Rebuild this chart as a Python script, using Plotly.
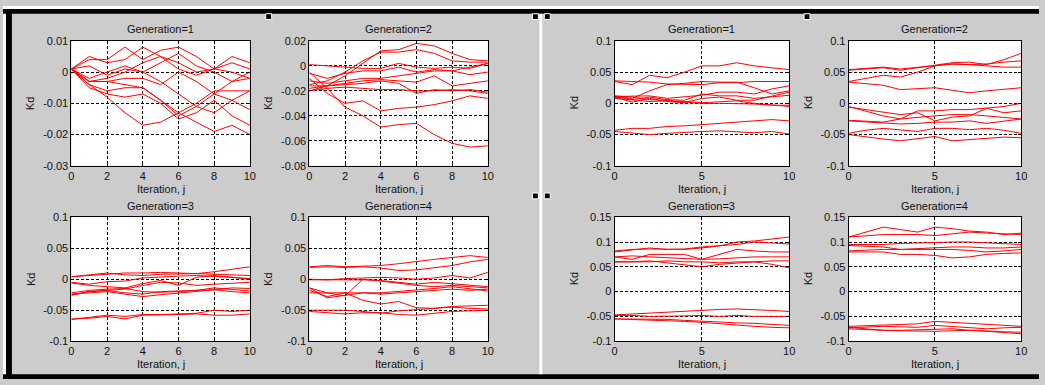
import plotly.graph_objects as go

W, H = 1045, 385

ITER = [0, 1, 2, 3, 4, 5, 6, 7, 8, 9, 10]

# ---- Left figure: Kd trajectories, generations 1-4 ----
LEFT_GEN1 = [
    [0.001, 0.004, 0.004, 0.008, 0.004, 0.007, 0.008, 0.005, 0.001, 0.005, 0.003],
    [0.001, 0.005, 0.003, 0.004, 0.008, 0.005, 0.003, 0.000, 0.001, 0.003, 0.001],
    [0.001, -0.002, 0.000, 0.002, 0.000, 0.003, 0.006, 0.002, 0.000, -0.003, -0.002],
    [0.001, -0.003, -0.002, 0.000, 0.003, 0.005, 0.001, -0.001, 0.001, 0.000, -0.002],
    [0.001, 0.002, -0.001, 0.001, 0.000, -0.003, -0.007, -0.011, -0.013, -0.009, -0.006],
    [0.001, -0.003, -0.003, -0.004, -0.005, -0.009, -0.013, -0.010, -0.006, -0.006, -0.006],
    [0.001, -0.004, -0.006, -0.005, -0.005, -0.009, -0.014, -0.011, -0.007, -0.009, -0.012],
    [0.001, -0.005, -0.007, -0.008, -0.007, -0.010, -0.015, -0.013, -0.009, -0.014, -0.017],
    [0.001, -0.004, -0.008, -0.013, -0.017, -0.016, -0.013, -0.016, -0.019, -0.017, -0.020],
    [0.001, -0.003, -0.003, -0.002, -0.002, -0.004, 0.000, -0.003, -0.007, -0.003, 0.000],
]
LEFT_GEN2 = [
    [-0.020, -0.016, -0.008, 0.002, 0.012, 0.013, 0.018, 0.016, 0.010, 0.005, 0.004],
    [-0.015, -0.012, -0.005, 0.004, 0.011, 0.011, 0.013, 0.010, 0.004, 0.003, 0.003],
    [0.001, 0.000, -0.001, -0.002, -0.002, 0.002, -0.001, -0.002, -0.001, -0.002, 0.002],
    [-0.006, -0.010, -0.006, -0.004, -0.004, -0.001, -0.005, -0.003, -0.004, -0.007, -0.005],
    [-0.012, -0.014, -0.012, -0.010, -0.010, -0.008, -0.006, -0.004, -0.004, -0.001, 0.002],
    [-0.018, -0.016, -0.014, -0.012, -0.011, -0.012, -0.013, -0.008, -0.016, -0.014, -0.012],
    [-0.020, -0.018, -0.017, -0.018, -0.019, -0.019, -0.020, -0.020, -0.019, -0.020, -0.022],
    [-0.016, -0.016, -0.015, -0.014, -0.012, -0.014, -0.022, -0.019, -0.020, -0.019, -0.021],
    [-0.010, -0.022, -0.030, -0.028, -0.036, -0.034, -0.033, -0.031, -0.028, -0.024, -0.026],
    [-0.005, -0.018, -0.033, -0.040, -0.049, -0.047, -0.046, -0.055, -0.062, -0.065, -0.064],
]
LEFT_GEN3 = [
    [0.004, 0.007, 0.010, 0.007, 0.006, 0.008, 0.009, 0.009, 0.012, 0.016, 0.020],
    [0.004, 0.006, 0.008, 0.010, 0.010, 0.011, 0.010, 0.009, 0.008, 0.007, 0.006],
    [-0.005, -0.008, -0.004, -0.003, 0.002, 0.004, 0.005, 0.006, 0.005, 0.003, 0.001],
    [-0.006, -0.010, -0.012, -0.014, -0.007, -0.002, -0.010, 0.003, 0.006, 0.003, 0.000],
    [-0.025, -0.020, -0.018, -0.016, -0.010, -0.005, -0.006, -0.010, -0.008, -0.006, -0.005],
    [-0.026, -0.020, -0.018, -0.022, -0.024, -0.020, -0.019, -0.018, -0.017, -0.014, -0.015],
    [-0.024, -0.022, -0.020, -0.024, -0.028, -0.025, -0.022, -0.020, -0.017, -0.020, -0.022],
    [-0.022, -0.018, -0.016, -0.015, -0.020, -0.021, -0.020, -0.018, -0.014, -0.016, -0.019],
    [-0.065, -0.062, -0.058, -0.060, -0.057, -0.057, -0.056, -0.055, -0.050, -0.052, -0.050],
    [-0.064, -0.063, -0.060, -0.064, -0.058, -0.058, -0.057, -0.056, -0.058, -0.058, -0.056],
]
LEFT_GEN4 = [
    [0.020, 0.022, 0.020, 0.021, 0.022, 0.025, 0.029, 0.032, 0.035, 0.038, 0.035],
    [0.019, 0.020, 0.019, 0.020, 0.018, 0.014, 0.015, 0.018, 0.022, 0.028, 0.032],
    [0.000, -0.001, 0.001, 0.002, 0.003, 0.002, 0.000, 0.002, 0.006, 0.002, 0.011],
    [-0.001, -0.001, 0.000, -0.001, -0.002, -0.005, -0.008, -0.005, -0.007, -0.009, -0.012],
    [-0.014, -0.022, -0.027, 0.000, -0.003, -0.007, -0.010, -0.012, -0.010, -0.012, -0.014],
    [-0.018, -0.028, -0.022, -0.022, -0.024, -0.022, -0.020, -0.019, -0.016, -0.018, -0.016],
    [-0.022, -0.022, -0.022, -0.034, -0.040, -0.036, -0.046, -0.047, -0.044, -0.043, -0.042],
    [-0.014, -0.030, -0.026, -0.022, -0.022, -0.020, -0.018, -0.015, -0.012, -0.015, -0.019],
    [-0.050, -0.050, -0.050, -0.052, -0.055, -0.051, -0.049, -0.046, -0.045, -0.047, -0.048],
    [-0.052, -0.054, -0.056, -0.054, -0.054, -0.057, -0.058, -0.055, -0.052, -0.051, -0.050],
]

# ---- Right figure ----
RIGHT_GEN1 = [
    [0.035, 0.030, 0.045, 0.041, 0.050, 0.060, 0.060, 0.065, 0.060, 0.057, 0.054],
    [0.036, 0.035, 0.034, 0.031, 0.031, 0.030, 0.033, 0.033, 0.035, 0.035, 0.035],
    [0.010, 0.008, 0.020, 0.030, 0.032, 0.035, 0.034, 0.034, 0.025, 0.015, 0.020],
    [0.011, 0.012, 0.012, 0.008, 0.010, 0.013, 0.018, 0.018, 0.015, 0.023, 0.028],
    [0.012, 0.006, 0.010, 0.006, 0.005, 0.015, 0.012, 0.012, 0.008, 0.010, 0.013],
    [0.010, 0.002, 0.008, 0.003, 0.001, 0.008, 0.010, 0.005, 0.005, 0.012, 0.018],
    [0.012, 0.010, 0.006, 0.005, 0.003, 0.001, 0.002, 0.004, 0.000, -0.002, -0.005],
    [0.008, 0.005, 0.003, 0.004, 0.002, 0.000, 0.000, 0.000, -0.001, -0.003, -0.003],
    [-0.043, -0.040, -0.040, -0.037, -0.036, -0.034, -0.032, -0.031, -0.028, -0.026, -0.028],
    [-0.045, -0.048, -0.050, -0.048, -0.046, -0.045, -0.044, -0.046, -0.047, -0.045, -0.049],
]
RIGHT_GEN2 = [
    [0.053, 0.055, 0.057, 0.053, 0.057, 0.062, 0.065, 0.066, 0.062, 0.070, 0.080],
    [0.054, 0.056, 0.058, 0.055, 0.058, 0.060, 0.063, 0.062, 0.063, 0.066, 0.068],
    [0.035, 0.040, 0.045, 0.042, 0.050, 0.060, 0.063, 0.062, 0.060, 0.058, 0.058],
    [0.034, 0.032, 0.029, 0.022, 0.024, 0.025, 0.021, 0.017, 0.020, 0.023, 0.025],
    [-0.005, -0.012, -0.020, -0.025, -0.012, -0.012, -0.010, -0.010, -0.008, -0.005, 0.000],
    [-0.006, -0.010, -0.015, -0.018, -0.015, -0.028, -0.022, -0.020, -0.008, -0.015, -0.012],
    [-0.027, -0.028, -0.030, -0.025, -0.022, -0.020, -0.018, -0.018, -0.020, -0.022, -0.025],
    [-0.028, -0.030, -0.032, -0.033, -0.032, -0.030, -0.030, -0.028, -0.032, -0.028, -0.025],
    [-0.048, -0.043, -0.040, -0.042, -0.045, -0.040, -0.040, -0.042, -0.040, -0.043, -0.048],
    [-0.050, -0.054, -0.057, -0.060, -0.056, -0.053, -0.060, -0.058, -0.056, -0.054, -0.055],
]
RIGHT_GEN3 = [
    [0.082, 0.085, 0.086, 0.085, 0.085, 0.088, 0.092, 0.100, 0.102, 0.106, 0.110],
    [0.080, 0.084, 0.088, 0.085, 0.086, 0.090, 0.092, 0.095, 0.100, 0.098, 0.096],
    [0.070, 0.065, 0.075, 0.075, 0.075, 0.065, 0.075, 0.085, 0.082, 0.080, 0.080],
    [0.070, 0.072, 0.070, 0.068, 0.066, 0.065, 0.066, 0.068, 0.070, 0.070, 0.070],
    [0.060, 0.060, 0.062, 0.058, 0.055, 0.050, 0.055, 0.058, 0.060, 0.055, 0.048],
    [0.060, 0.060, 0.060, 0.062, 0.060, 0.060, 0.058, 0.060, 0.060, 0.062, 0.062],
    [-0.047, -0.045, -0.043, -0.042, -0.040, -0.037, -0.036, -0.035, -0.036, -0.038, -0.040],
    [-0.048, -0.048, -0.050, -0.050, -0.049, -0.048, -0.050, -0.048, -0.050, -0.050, -0.050],
    [-0.055, -0.056, -0.058, -0.058, -0.060, -0.062, -0.065, -0.068, -0.070, -0.072, -0.073],
    [-0.055, -0.055, -0.055, -0.056, -0.058, -0.060, -0.062, -0.063, -0.064, -0.066, -0.068],
]
RIGHT_GEN4 = [
    [0.110, 0.120, 0.130, 0.125, 0.120, 0.130, 0.127, 0.122, 0.120, 0.115, 0.118],
    [0.110, 0.113, 0.115, 0.115, 0.115, 0.113, 0.117, 0.120, 0.118, 0.116, 0.115],
    [0.095, 0.095, 0.095, 0.097, 0.098, 0.100, 0.100, 0.100, 0.098, 0.096, 0.095],
    [0.093, 0.092, 0.090, 0.085, 0.087, 0.088, 0.090, 0.090, 0.088, 0.088, 0.090],
    [0.082, 0.084, 0.085, 0.085, 0.085, 0.085, 0.085, 0.083, 0.080, 0.082, 0.085],
    [0.080, 0.080, 0.080, 0.075, 0.075, 0.073, 0.068, 0.070, 0.075, 0.077, 0.078],
    [-0.070, -0.069, -0.068, -0.066, -0.065, -0.060, -0.062, -0.065, -0.067, -0.068, -0.070],
    [-0.073, -0.071, -0.070, -0.071, -0.072, -0.068, -0.070, -0.072, -0.075, -0.073, -0.072],
    [-0.075, -0.077, -0.078, -0.078, -0.077, -0.077, -0.075, -0.078, -0.080, -0.081, -0.082],
    [-0.072, -0.075, -0.078, -0.079, -0.080, -0.080, -0.079, -0.078, -0.080, -0.083, -0.085],
]

TITLES = ["Generation=1", "Generation=2", "Generation=3", "Generation=4"]

# tick labels
X_TICKS_LEFT = [0, 2, 4, 6, 8, 10]
X_TICKS_RIGHT = [0, 5, 10]
Y_TICKS_G1L = [-0.03, -0.02, -0.01, 0, 0.01]
Y_TEXT_G1L = ["-0.03", "-0.02", "-0.01", "0", "0.01"]
Y_TICKS_G2L = [-0.08, -0.06, -0.04, -0.02, 0, 0.02]
Y_TEXT_G2L = ["-0.08", "-0.06", "-0.04", "-0.02", "0", "0.02"]
Y_TICKS_01 = [-0.1, -0.05, 0, 0.05, 0.1]
Y_TEXT_01 = ["-0.1", "-0.05", "0", "0.05", "0.1"]
Y_TICKS_015 = [-0.1, -0.05, 0, 0.05, 0.1, 0.15]
Y_TEXT_015 = ["-0.1", "-0.05", "0", "0.05", "0.1", "0.15"]

# panel layout (pixel boxes: left, right, top, bottom)
panels = [
    dict(data=LEFT_GEN1, title=TITLES[0], box=(69, 249, 36, 165), yr=(-0.03, 0.01), yt=Y_TICKS_G1L, ytt=Y_TEXT_G1L, xt=X_TICKS_LEFT),
    dict(data=LEFT_GEN2, title=TITLES[1], box=(309, 489, 36, 165), yr=(-0.08, 0.02), yt=Y_TICKS_G2L, ytt=Y_TEXT_G2L, xt=X_TICKS_LEFT),
    dict(data=LEFT_GEN3, title=TITLES[2], box=(69, 249, 218, 346), yr=(-0.1, 0.1), yt=Y_TICKS_01, ytt=Y_TEXT_01, xt=X_TICKS_LEFT),
    dict(data=LEFT_GEN4, title=TITLES[3], box=(309, 489, 218, 346), yr=(-0.1, 0.1), yt=Y_TICKS_01, ytt=Y_TEXT_01, xt=X_TICKS_LEFT),
    dict(data=RIGHT_GEN1, title=TITLES[0], box=(617, 793, 36, 165), yr=(-0.1, 0.1), yt=Y_TICKS_01, ytt=Y_TEXT_01, xt=X_TICKS_RIGHT),
    dict(data=RIGHT_GEN2, title=TITLES[1], box=(853, 1027, 36, 165), yr=(-0.1, 0.1), yt=Y_TICKS_01, ytt=Y_TEXT_01, xt=X_TICKS_RIGHT),
    dict(data=RIGHT_GEN3, title=TITLES[2], box=(617, 793, 218, 346), yr=(-0.1, 0.15), yt=Y_TICKS_015, ytt=Y_TEXT_015, xt=X_TICKS_RIGHT),
    dict(data=RIGHT_GEN4, title=TITLES[3], box=(853, 1027, 218, 346), yr=(-0.1, 0.15), yt=Y_TICKS_015, ytt=Y_TEXT_015, xt=X_TICKS_RIGHT),
]

FONT = "Liberation Sans, Arial, sans-serif"
TXT = "#111111"

def px(x):
    return x / W

def py(y):
    return 1 - y / H

fig = go.Figure()
layout = dict(
    width=W, height=H, margin=dict(l=0, r=0, t=0, b=0),
    paper_bgcolor="#cccccc", plot_bgcolor="white", showlegend=False,
    font=dict(family=FONT, size=11, color=TXT),
)
annotations = []
shapes = []

for i, p in enumerate(panels, start=1):
    xa = "x" if i == 1 else f"x{i}"
    ya = "y" if i == 1 else f"y{i}"
    l, r, t, b = p["box"]
    for series in p["data"]:
        fig.add_trace(go.Scatter(x=ITER, y=series, mode="lines",
                                 line=dict(color="#ff0000", width=1),
                                 xaxis=xa, yaxis=ya, hoverinfo="skip"))
    common = dict(showline=True, linecolor="black", linewidth=1, mirror="ticks",
                  ticks="inside", ticklen=3, tickcolor="black",
                  showgrid=True, gridcolor="black", gridwidth=1, griddash="3px,2px",
                  zeroline=False, tickfont=dict(family=FONT, size=11, color=TXT))
    layout["xaxis" if i == 1 else f"xaxis{i}"] = dict(
        domain=[px(l), px(r)], range=[0, 10], anchor=ya,
        tickvals=p["xt"], ticktext=[str(v) for v in p["xt"]], **common)
    layout["yaxis" if i == 1 else f"yaxis{i}"] = dict(
        domain=[py(b), py(t)], range=list(p["yr"]), anchor=xa,
        tickvals=p["yt"], ticktext=p["ytt"], **common)
    cx = (l + r) / 2
    annotations.append(dict(text=p["title"], x=px(cx), y=py(t - 12), xref="paper", yref="paper",
                            xanchor="center", yanchor="middle", showarrow=False,
                            font=dict(family=FONT, size=11, color=TXT)))
    annotations.append(dict(text="Iteration, j", x=px(cx), y=py(b + 24), xref="paper", yref="paper",
                            xanchor="center", yanchor="middle", showarrow=False,
                            font=dict(family=FONT, size=11, color=TXT)))
    annotations.append(dict(text="Kd", x=px(l - 41), y=py((t + b) / 2), xref="paper", yref="paper",
                            xanchor="center", yanchor="middle", showarrow=False, textangle=-90,
                            font=dict(family=FONT, size=11, color=TXT)))

def rect(x0, y0, x1, y1, fill, line=None):
    d = dict(type="rect", xref="paper", yref="paper", x0=px(x0), x1=px(x1), y0=py(y1), y1=py(y0),
             fillcolor=fill, layer="above", line=dict(width=0))
    if line:
        d["line"] = dict(color=line, width=1)
    shapes.append(d)

# window frame
rect(0, 0, W, 3, "white")
rect(0, 0, 3, H, "white")
rect(0, 3, W, 8, "black")
rect(3, 3, 9, H, "black")
rect(0, 380, W, H, "black")
# separator between the two figures
rect(541, 8, 544, 380, "white")
# selection handles
for (hx, hy) in [(265, 8), (534, 8), (546, 8), (808, 8), (534, 193), (546, 193)]:
    rect(hx, hy, hx + 6, hy + 6, "black", line="white")

layout["annotations"] = annotations
layout["shapes"] = shapes
fig.update_layout(**layout)
fig.write_html("out.html",
               config={"displayModeBar": False, "staticPlot": True},
               post_script="document.body.style.margin='0';document.body.style.padding='0';"
                           "document.body.style.overflow='hidden';")
